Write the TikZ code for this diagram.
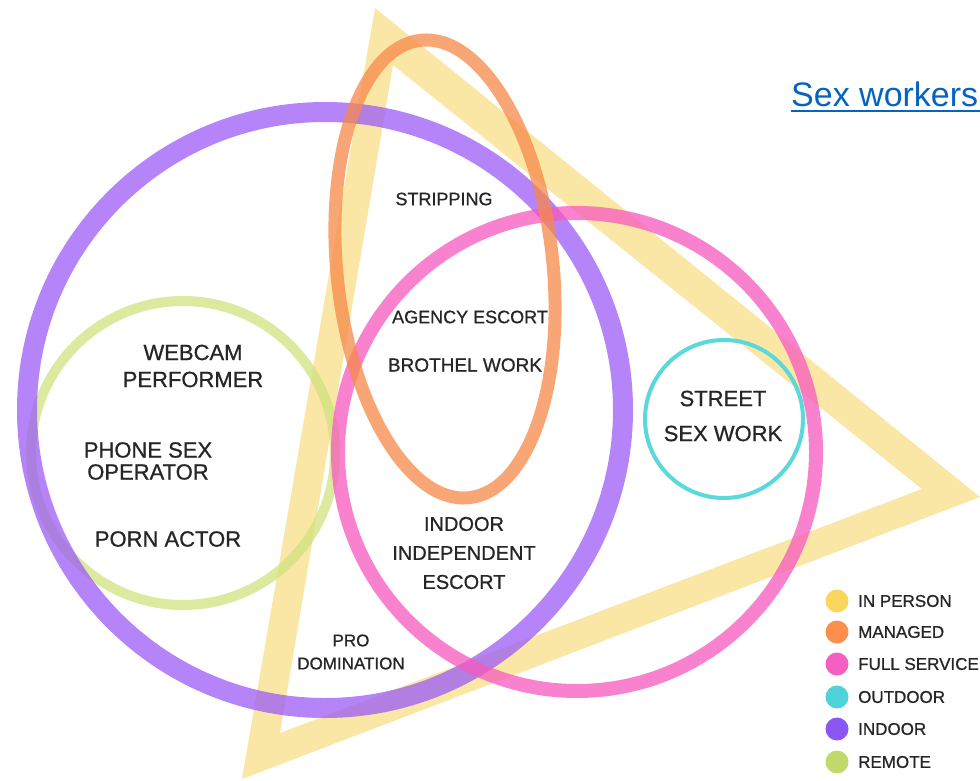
\documentclass[tikz,border=0pt]{standalone}
\usepackage{fontspec}
\setmainfont{Liberation Sans}
\newfontfamily\medfont{Liberation Sans}[FakeBold=0.8]
\definecolor{triyel}{HTML}{F9DD83}
\definecolor{purp}{HTML}{9B5CF6}
\definecolor{pinkc}{HTML}{F759BE}
\definecolor{orng}{HTML}{F7894A}
\definecolor{grn}{HTML}{D1E37F}
\definecolor{cyn}{HTML}{5AD8DC}
\definecolor{txt}{HTML}{262626}
\definecolor{linkblue}{HTML}{0563C1}
\definecolor{dotyel}{HTML}{FBD65C}
\definecolor{dotorg}{HTML}{FB8F4E}
\definecolor{dotpink}{HTML}{F65FC2}
\definecolor{dotcyn}{HTML}{4ED3DA}
\definecolor{dotpurp}{HTML}{8A57F5}
\definecolor{dotgrn}{HTML}{BFD96B}
\tikzset{
  ring/.style={opacity=0.75},
  lab/.style={text=txt, align=center, inner sep=0pt},
  legdot/.style={circle, inner sep=0pt, minimum size=23pt},
  legtxt/.style={text=txt, anchor=west, inner sep=0pt, font=\medfont\fontsize{17}{20}\selectfont}
}
\begin{document}
\begin{tikzpicture}[x=1pt,y=-1pt]
\useasboundingbox (0,0) rectangle (980,781);
\clip (0,0) rectangle (980,781);
\fill[white] (0,0) rectangle (980,781);
% triangle (in person)
\fill[triyel, opacity=0.72, even odd rule]
  (375,8) -- (980,497) -- (242,779) -- cycle
  (393,65) -- (922,489) -- (280,733) -- cycle;
% rings
\draw[grn, ring, line width=10pt] (183,453) circle[radius=152pt];
\draw[purp, ring, line width=20pt] (325,410) circle[radius=298pt];
\draw[pinkc, ring, line width=14pt] (577,452) circle[radius=239pt];
\draw[orng, ring, line width=13pt, shift={(445,269)}, rotate=6] (0,0) ellipse[x radius=108pt, y radius=230pt];
\draw[cyn, line width=4pt] (724,419) circle[radius=79pt];
% labels
\node[lab, font=\medfont\fontsize{18}{20}\selectfont] (strip) at (444,199) {STRIPPING};
\node[lab, font=\medfont\fontsize{18}{20}\selectfont] (agency) at (470,317) {AGENCY ESCORT};
\node[lab, font=\medfont\fontsize{19}{22}\selectfont] (brothel) at (465,365) {BROTHEL WORK};
\node[lab, font=\medfont\fontsize{22}{27}\selectfont] (webcam) at (193,366) {WEBCAM\\PERFORMER};
\node[lab, font=\medfont\fontsize{22}{22}\selectfont] (phone) at (148,461) {PHONE SEX\\OPERATOR};
\node[lab, font=\medfont\fontsize{22}{24}\selectfont] (porn) at (168,539) {PORN ACTOR};
\node[lab, font=\medfont\fontsize{20}{29}\selectfont] (indep) at (464,553) {INDOOR\\INDEPENDENT\\ESCORT};
\node[lab, font=\medfont\fontsize{17}{23}\selectfont] (prodom) at (351,652) {PRO\\DOMINATION};
\node[lab, font=\medfont\fontsize{22}{35}\selectfont] (street) at (723,416) {STREET\\SEX WORK};
% link
\node[text=linkblue, anchor=base west, inner sep=0pt, font=\fontsize{34}{36}\selectfont] (link) at (791,107) {Sex workers:};
\draw[linkblue, line width=2pt] ([yshift=-4pt]link.base west) -- ([yshift=-4pt]link.base east);
% legend
\node[legdot, fill=dotyel] (d1) at (837,601) {};
\node[legdot, fill=dotorg] (d2) at (837,632) {};
\node[legdot, fill=dotpink] (d3) at (837,664) {};
\node[legdot, fill=dotcyn] (d4) at (837,697) {};
\node[legdot, fill=dotpurp] (d5) at (837,729) {};
\node[legdot, fill=dotgrn] (d6) at (837,762) {};
\node[legtxt] (l1) at (858,601) {IN PERSON};
\node[legtxt] (l2) at (858,632) {MANAGED};
\node[legtxt] (l3) at (858,664) {FULL SERVICE};
\node[legtxt] (l4) at (858,697) {OUTDOOR};
\node[legtxt] (l5) at (858,729) {INDOOR};
\node[legtxt] (l6) at (858,762) {REMOTE};
\end{tikzpicture}
\end{document}
